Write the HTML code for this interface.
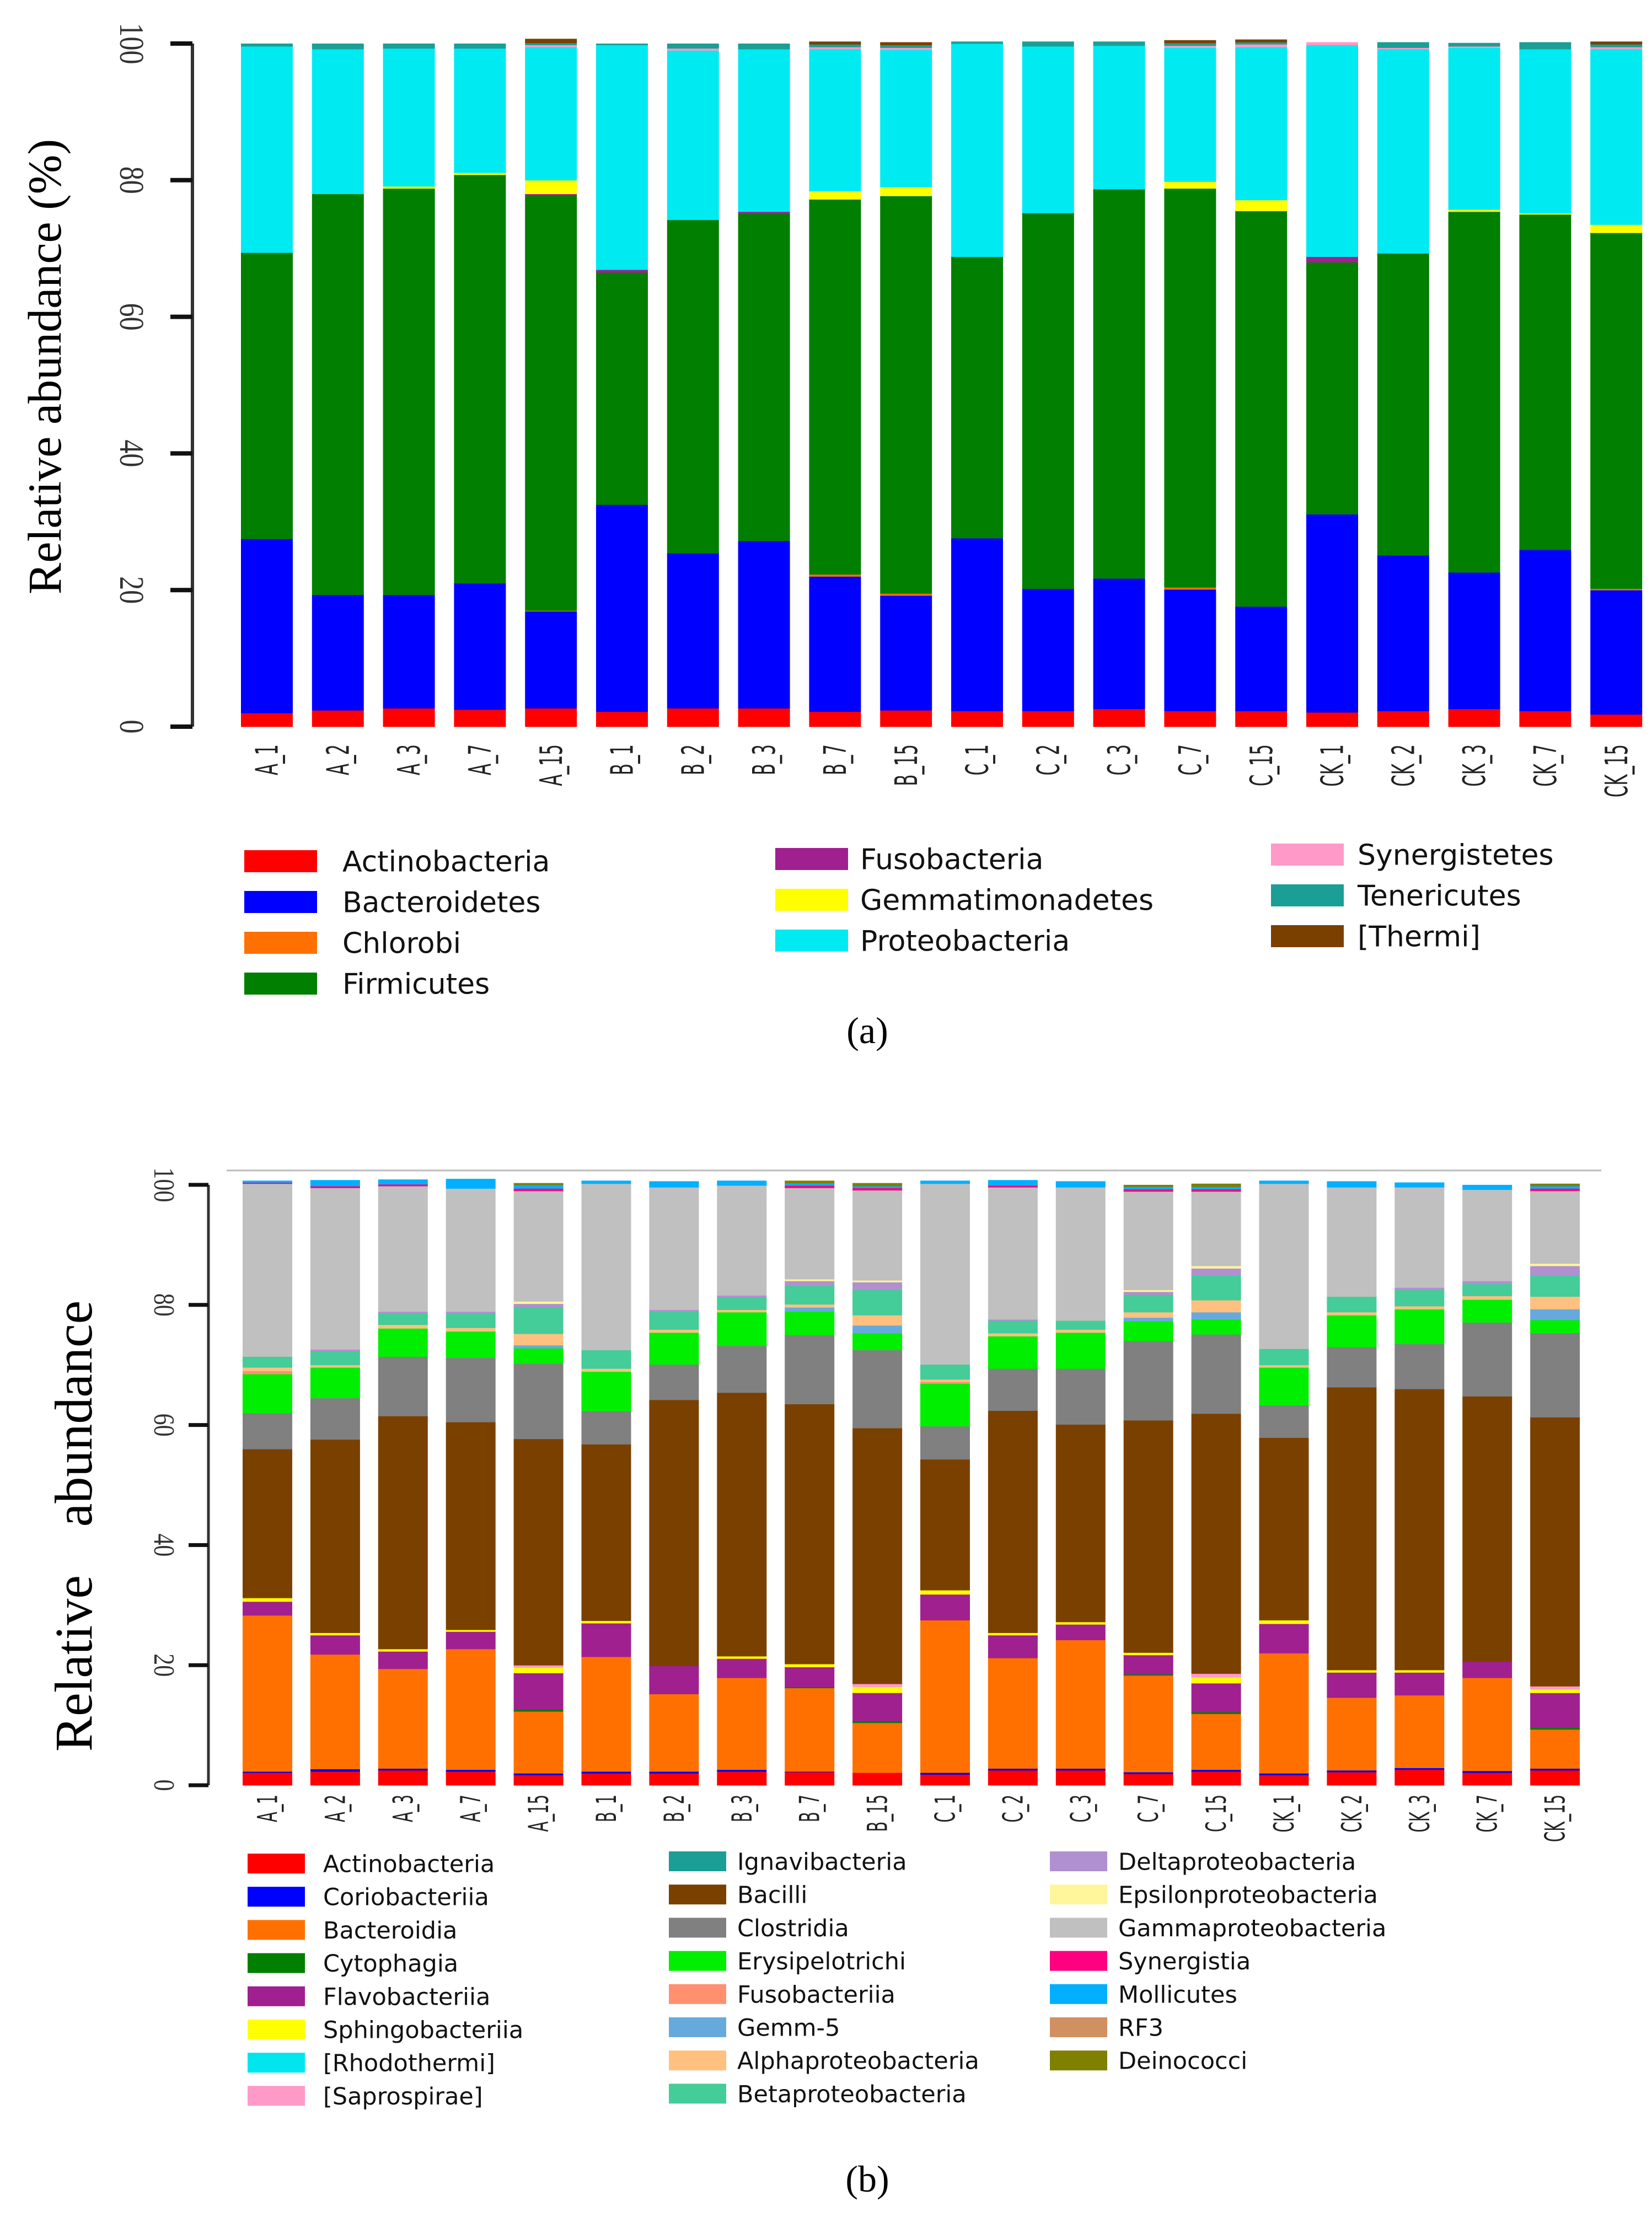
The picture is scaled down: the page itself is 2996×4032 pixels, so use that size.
<!DOCTYPE html>
<html><head><meta charset="utf-8">
<style>
html,body{margin:0;padding:0;background:#fff;}
svg{display:block;}
</style></head>
<body>
<svg id="fig" xmlns="http://www.w3.org/2000/svg" width="2996" height="4032" viewBox="0 0 2996 4032">
<rect x="0" y="0" width="2996" height="4032" fill="#fff"/>
<g id="chartA"></g>
<g id="chartB"></g>
<text x="1573" y="1892" font-family="Liberation Serif, serif" font-size="68" text-anchor="middle">(a)</text>
<text x="1573" y="3975" font-family="Liberation Serif, serif" font-size="68" text-anchor="middle">(b)</text>
</svg>
<script>
const samples = ["A_1","A_2","A_3","A_7","A_15","B_1","B_2","B_3","B_7","B_15","C_1","C_2","C_3","C_7","C_15","CK_1","CK_2","CK_3","CK_7","CK_15"];
const yTicks = [0,20,40,60,80,100];

// Chart (a): phylum level
const phylaA = ["Actinobacteria","Bacteroidetes","Chlorobi","Firmicutes","Fusobacteria","Gemmatimonadetes","Proteobacteria","Synergistetes","Tenericutes","[Thermi]"];
const colorsA = ["#ff0000","#0000ff","#ff7000","#007f00","#a0208f","#ffff00","#00eaf2","#ff99c8","#1a9e96","#7a4000"];
const aActino = [2,2.4,2.7,2.5,2.7,2.2,2.7,2.7,2.2,2.4,2.3,2.3,2.6,2.3,2.3,2.1,2.3,2.6,2.3,1.8];
const aBacteroidetes = [25.5,16.9,16.6,18.5,14.2,30.3,22.7,24.5,19.8,16.8,25.3,17.9,19.1,17.8,15.3,29,22.8,20,23.6,18.2];
const aChlorobi = [0,0,0,0,0.1,0,0,0,0.3,0.3,0,0,0,0.3,0,0,0,0,0,0.2];
const aFirmicutes = [41.9,58.7,59.5,59.8,60.8,34,48.8,47.9,54.9,58.2,41.2,55,57,58.4,57.9,36.9,44.2,52.8,49.1,52.1];
const aFuso = [0,0,0,0,0.2,0.4,0,0.3,0,0,0,0,0,0,0,0.8,0,0,0,0];
const aGemm = [0,0,0.3,0.3,2.0,0,0,0,1.2,1.3,0,0,0,1.0,1.6,0,0,0.3,0.2,1.2];
const aProteo = [30.2,21.2,20.2,18.2,19.5,32.9,24.8,23.8,20.8,20.1,31.2,24.4,21,19.6,22.4,31,29.9,23.7,24,25.7];
const aSyn = [0,0,0,0,0.3,0,0.3,0,0.3,0.3,0,0,0,0.3,0.4,0.4,0.2,0.2,0,0.3];
const aTen = [0.4,0.8,0.7,0.7,0.3,0.2,0.7,0.8,0.4,0.4,0.3,0.7,0.6,0.4,0.3,0,0.8,0.5,1.0,0.4];
const aThermi = [0,0,0,0,0.6,0,0,0,0.4,0.4,0,0,0,0.4,0.4,0,0,0,0,0.4];
const seriesA = [aActino,aBacteroidetes,aChlorobi,aFirmicutes,aFuso,aGemm,aProteo,aSyn,aTen,aThermi];
const legendColsA = [0,0,0,0,1,1,1,2,2,2];
const legendRowsA = [0,1,2,3,0,1,2,0,1,2];

// Chart (b): class level
const classesB = ["Actinobacteria","Coriobacteriia","Bacteroidia","Cytophagia","Flavobacteriia","Sphingobacteriia","[Rhodothermi]","[Saprospirae]","Ignavibacteria","Bacilli","Clostridia","Erysipelotrichi","Fusobacteriia","Gemm-5","Alphaproteobacteria","Betaproteobacteria","Deltaproteobacteria","Epsilonproteobacteria","Gammaproteobacteria","Synergistia","Mollicutes","RF3","Deinococci"];
const colorsB = ["#ff0000","#0000ff","#ff7000","#007f00","#a0208f","#ffff00","#00e5ee","#ff99c8","#1a9e96","#7a4000","#808080","#00ee00","#ff9070","#66aadd","#ffc080","#44cc99","#b090d0","#fff59a","#c0c0c0","#ff0080","#00b0ff","#d09060","#7f7f00"];
const bAct = [2.1,2.3,2.5,2.3,1.7,2.0,2.0,2.3,2.2,2.1,1.8,2.5,2.5,1.9,2.3,1.7,2.2,2.6,2.1,2.5];
const bCor = [0.2,0.4,0.3,0.3,0.3,0.3,0.3,0.3,0.1,0,0.3,0.3,0.3,0.3,0.3,0.3,0.3,0.3,0.3,0.3];
const bBacd = [26,19.1,16.6,20.1,10.3,19.1,12.9,15.3,13.9,8.3,25.4,18.4,21.4,16.1,9.3,20,12.1,12.1,15.5,6.5];
const bCyto = [0,0,0,0,0.3,0,0,0,0.2,0.3,0,0,0,0.2,0.3,0,0,0,0,0.3];
const bFlavo = [2.3,3.2,2.9,2.9,6.1,5.6,4.7,3.2,3.3,4.7,4.3,3.8,2.6,3.2,4.8,4.9,4.2,3.8,2.7,5.8];
const bSph = [0.6,0.4,0.4,0.3,0.9,0.4,0,0.4,0.5,1.0,0.7,0.4,0.4,0.4,1.0,0.6,0.4,0.4,0,0.6];
const bRhodo = [0,0,0,0,0,0,0,0,0,0,0,0,0,0,0,0,0,0,0,0];
const bSapro = [0,0,0,0,0.4,0,0,0,0,0.5,0,0,0,0,0.6,0,0,0,0,0.5];
const bIgn = [0,0,0,0,0,0,0,0,0,0,0,0,0,0,0,0,0,0,0,0];
const bBacilli = [24.8,32.2,38.8,34.6,37.7,29.4,44.3,43.9,43.3,42.6,21.8,37,32.9,38.7,43.3,30.4,47.1,46.8,44.2,44.8];
const bClo = [6,6.9,9.9,10.7,12.5,5.5,5.9,7.8,11.5,13,5.5,7,9.3,13.2,13.2,5.4,6.7,7.5,12.3,14];
const bEry = [6.5,5.1,4.7,4.4,2.6,6.6,5.3,5.6,3.9,2.8,7.1,5.4,6,3.3,2.5,6.3,5.3,5.8,3.8,2.2];
const bFuso = [0.5,0,0,0,0,0,0,0,0,0,0.3,0,0,0,0,0,0,0,0,0];
const bGemm = [0,0,0,0,0.5,0,0,0,0.7,1.3,0,0,0,0.6,1.2,0,0,0,0,1.8];
const bAlpha = [0.6,0.4,0.6,0.6,1.9,0.5,0.5,0.4,0.5,1.7,0.4,0.5,0.5,0.9,2.0,0.4,0.5,0.5,0.6,2.1];
const bBeta = [1.8,2.3,1.9,2.4,4.4,3.1,3.0,2.1,3.1,4.2,2.5,2.1,1.5,2.9,4.1,2.7,2.6,2.7,2.0,3.5];
const bDelta = [0,0.3,0.3,0.3,0.6,0,0.3,0.3,0.8,1.3,0,0.2,0,0.5,1.2,0,0,0.4,0.5,1.6];
const bEps = [0,0,0,0,0.4,0,0,0,0.3,0.3,0,0,0,0.3,0.4,0,0,0,0,0.4];
const bGamma = [28.8,26.9,20.9,20.5,18.4,27.7,20.4,18.3,15.2,15,30.1,22,22.2,16.4,12.4,27.5,18.2,16.7,15.2,12.1];
const bSyn = [0.2,0.3,0.3,0,0.4,0,0,0,0.4,0.4,0,0.3,0,0.4,0.4,0,0,0,0,0.4];
const bMoll = [0.3,1.0,0.8,1.6,0.6,0.5,1.0,0.8,0.4,0.3,0.5,0.9,1.0,0.4,0.4,0.5,1.0,0.8,0.8,0.4];
const bRF3 = [0,0,0,0,0,0,0,0,0,0,0,0,0,0,0,0,0,0,0,0];
const bDeino = [0,0,0,0,0.3,0,0,0,0.4,0.5,0,0,0,0.3,0.5,0,0,0,0,0.4];
const seriesB = [bAct,bCor,bBacd,bCyto,bFlavo,bSph,bRhodo,bSapro,bIgn,bBacilli,bClo,bEry,bFuso,bGemm,bAlpha,bBeta,bDelta,bEps,bGamma,bSyn,bMoll,bRF3,bDeino];
const legendColsB = classesB.map((n, k) => Math.floor(k / 8));
const legendRowsB = classesB.map((n, k) => k % 8);

const NS = "http://www.w3.org/2000/svg";
function mk(tag, attrs, parent){
  const e = document.createElementNS(NS, tag);
  for (const k in attrs) e.setAttribute(k, attrs[k]);
  parent.appendChild(e);
  return e;
}

function drawChart(g, cfg, series, colors, names, legCols, legRows){
  const y = v => cfg.y0 - v * cfg.pxPerUnit;
  const x = i => cfg.left0 + i * cfg.pitch;
  const axis = mk("line", {x1:cfg.axisX, x2:cfg.axisX, y1:y(0), y2:y(100), stroke:"#333", "stroke-width":cfg.axisW}, g);
  
  
  yTicks.forEach(t => {
    const tk = mk("line", {x1:cfg.axisX - cfg.tickLen, x2:cfg.axisX, y1:y(t), y2:y(t), stroke:"#111", "stroke-width":cfg.axisW + 2}, g);
    
    
    const tl = mk("text", {x:0, y:0, "font-family":"Liberation Serif, serif", "font-size":cfg.tickFont, fill:"#333", "text-anchor":"middle",
      transform:`translate(${cfg.tickLabelX},${y(t)}) rotate(90) scale(1,1.25)`}, g);
    
    
    tl.textContent = String(t);
  });
  samples.forEach((s, i) => {
    let cum = 0;
    series.forEach((arr, k) => {
      const v = arr[i];
      if (v <= 0) { return; }
      const r = mk("rect", {x:x(i), y:y(cum + v), width:cfg.barW, height:v * cfg.pxPerUnit + 0.5, fill:colors[k]}, g);
      
      
      cum += v;
    });
    const lab = mk("text", {x:0, y:0, "font-family":"DejaVu Sans, sans-serif", "font-size":cfg.xFont, fill:"#222", "text-anchor":"end",
      transform:`translate(${x(i) + cfg.barW/2 + cfg.xFont*0.35},${cfg.xLabelTop}) rotate(-90) scale(0.55,1)`}, g);
    
    
    lab.textContent = s;
  });
  names.forEach((n, k) => {
    const col = legCols[k];
    const row = legRows[k];
    const ly = cfg.legY0[col] + row * cfg.legPitch;
    const sw = mk("rect", {x:cfg.legSwX[col], y:ly - cfg.swH/2, width:cfg.swW, height:cfg.swH, fill:colors[k]}, g);
    
    
    const t = mk("text", {x:cfg.legTxX[col], y:ly + cfg.legFont*0.36, "font-family":"DejaVu Sans, sans-serif", "font-size":cfg.legFont, fill:"#111"}, g);
    
    
    t.textContent = n;
  });
}

const gA = document.getElementById("chartA");
drawChart(gA, {y0:1318, pxPerUnit:12.39, left0:437, pitch:128.8, barW:94, axisX:349, axisW:6, tickLen:40, tickFont:50, tickLabelX:218,
  xFont:56, xLabelTop:1350, legY0:[1562,1558,1550], legPitch:74, legSwX:[443,1406,2305], legTxX:[621,1560,2462], swW:132, swH:40, legFont:52},
  seriesA, colorsA, phylaA, legendColsA, legendRowsA);
const tA = mk("text", {x:0, y:0, "font-family":"Liberation Serif, serif", "font-size":86, fill:"#000", "text-anchor":"middle", transform:"translate(110,665) rotate(-90)"}, gA);


tA.textContent = "Relative abundance (%)";

const gB = document.getElementById("chartB");
const topLine = mk("line", {x1:411, x2:2904, y1:2123, y2:2123, stroke:"#bbb", "stroke-width":3}, gB);


drawChart(gB, {y0:3238, pxPerUnit:10.89, left0:440, pitch:122.9, barW:90, axisX:378, axisW:5, tickLen:36, tickFont:42, tickLabelX:280,
  xFont:50, xLabelTop:3255, legY0:[3380,3376,3376], legPitch:60.2, legSwX:[449,1213,1904], legTxX:[586,1337,2028], swW:104, swH:36, legFont:43},
  seriesB, colorsB, classesB, legendColsB, legendRowsB);
const tB1 = mk("text", {x:0, y:0, "font-family":"Liberation Serif, serif", "font-size":96, fill:"#000", "text-anchor":"middle", transform:"translate(166,3017) rotate(-90)"}, gB);


tB1.textContent = "Relative";
const tB2 = mk("text", {x:0, y:0, "font-family":"Liberation Serif, serif", "font-size":96, fill:"#000", "text-anchor":"middle", transform:"translate(166,2564) rotate(-90)"}, gB);


tB2.textContent = "abundance";
</script>
</body></html>
